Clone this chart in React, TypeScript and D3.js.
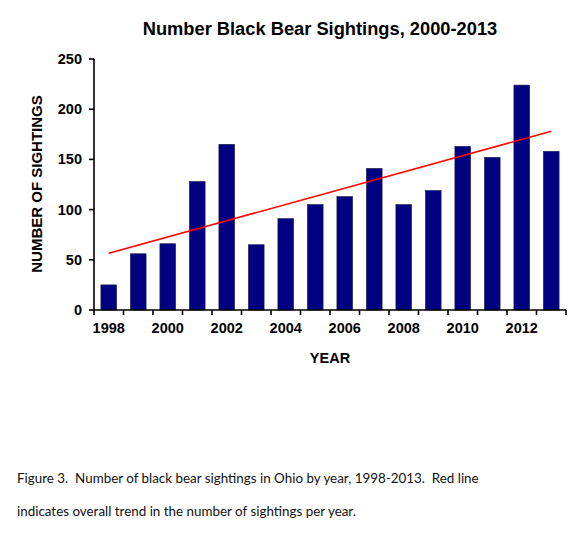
import * as d3 from "d3";
import { useEffect, useRef } from "react";

const years = [1998, 1999, 2000, 2001, 2002, 2003, 2004, 2005, 2006, 2007, 2008, 2009, 2010, 2011, 2012, 2013];
const sightings = [25, 56, 66, 128, 165, 65, 91, 105, 113, 141, 105, 119, 163, 152, 224, 158];
const trendEnds = [56.5, 178];
const yTicks = [0, 50, 100, 150, 200, 250];
const xLabelYears = [1998, 2000, 2002, 2004, 2006, 2008, 2010, 2012];
const captionLines = [
  "Figure 3.  Number of black bear sightings in Ohio by year, 1998-2013.  Red line",
  "indicates overall trend in the number of sightings per year."
];

function BearChart() {
  const ref = useRef<SVGSVGElement | null>(null);

  useEffect(() => {
    if (!ref.current) {
      return;
    }

    const width = 582;
    const height = 539;
    const svg = d3.select(ref.current);
    svg.selectAll("*").remove();
    svg.attr("width", width).attr("height", height).attr("viewBox", `0 0 ${width} ${height}`);

    const font = "'Liberation Sans', Arial, sans-serif";
    const x = d3
      .scaleBand<number>()
      .domain(years)
      .range([94, 566])
      .paddingInner(0.468)
      .paddingOuter(0.234);
    const y = d3.scaleLinear().domain([0, 250]).range([310, 59]);
    const gap = (x.step() - x.bandwidth()) / 2;
    const center = (yr: number) => (x(yr) ?? 0) + x.bandwidth() / 2;

    // bars
    svg
      .append("g")
      .selectAll("rect")
      .data(years)
      .join("rect")
      .attr("x", (d) => x(d) ?? 0)
      .attr("y", (_, i) => y(sightings[i]))
      .attr("width", x.bandwidth())
      .attr("height", (_, i) => y(0) - y(sightings[i]))
      .attr("fill", "#000080")
      .attr("stroke", "#1a1a4a")
      .attr("stroke-width", 0.6);

    // trend line
    const first = years[0];
    const last = years[years.length - 1];
    svg
      .append("line")
      .attr("x1", center(first))
      .attr("y1", y(trendEnds[0]))
      .attr("x2", center(last))
      .attr("y2", y(trendEnds[1]))
      .attr("stroke", "#ff0000")
      .attr("stroke-width", 1.6);

    // y axis
    const [x0, x1] = x.range();
    svg
      .append("line")
      .attr("x1", x0)
      .attr("x2", x0)
      .attr("y1", y(250))
      .attr("y2", y(0))
      .attr("stroke", "#000")
      .attr("stroke-width", 1.6);
    yTicks.forEach((t) => {
      svg
        .append("line")
        .attr("x1", x0 - 5)
        .attr("x2", x0)
        .attr("y1", y(t))
        .attr("y2", y(t))
        .attr("stroke", "#000")
        .attr("stroke-width", 1.6);
      svg
        .append("text")
        .attr("x", x0 - 12)
        .attr("y", y(t) + 5)
        .attr("text-anchor", "end")
        .attr("font-family", font)
        .attr("font-weight", "bold")
        .attr("font-size", 14.5)
        .text(t);
    });

    // x axis
    svg
      .append("line")
      .attr("x1", x0)
      .attr("x2", x1)
      .attr("y1", y(0))
      .attr("y2", y(0))
      .attr("stroke", "#000")
      .attr("stroke-width", 1.6);
    const bounds = years.map((yr) => (x(yr) ?? 0) - gap).concat([x1]);
    bounds.forEach((b) => {
      svg
        .append("line")
        .attr("x1", b)
        .attr("x2", b)
        .attr("y1", y(0))
        .attr("y2", y(0) + 5)
        .attr("stroke", "#000")
        .attr("stroke-width", 1.6);
    });
    xLabelYears.forEach((yr) => {
      svg
        .append("text")
        .attr("x", center(yr))
        .attr("y", 333)
        .attr("text-anchor", "middle")
        .attr("font-family", font)
        .attr("font-weight", "bold")
        .attr("font-size", 14.5)
        .text(yr);
    });

    // titles
    svg
      .append("text")
      .attr("x", 320)
      .attr("y", 35)
      .attr("text-anchor", "middle")
      .attr("font-family", font)
      .attr("font-weight", "bold")
      .attr("font-size", 18.3)
      .text("Number Black Bear Sightings, 2000-2013");
    svg
      .append("text")
      .attr("x", (x0 + x1) / 2)
      .attr("y", 363)
      .attr("text-anchor", "middle")
      .attr("font-family", font)
      .attr("font-weight", "bold")
      .attr("font-size", 14.5)
      .text("YEAR");
    svg
      .append("text")
      .attr("transform", `translate(42, 184) rotate(-90)`)
      .attr("text-anchor", "middle")
      .attr("font-family", font)
      .attr("font-weight", "bold")
      .attr("font-size", 15)
      .text("NUMBER OF SIGHTINGS");

    // caption
    captionLines.forEach((line, i) => {
      svg
        .append("text")
        .attr("x", 17)
        .attr("y", i === 0 ? 483 : 516)
        .attr("font-family", "Lato, 'Open Sans', sans-serif")
        .attr("font-size", 13.4)
        .attr("fill", "#111")
        .style("white-space", "pre")
        .text(line);
    });
  }, []);

  return <svg ref={ref} style={{ position: "absolute", left: 0, top: 0 }} aria-label="black bear sightings chart" />;
}

export default function App() {
  return <BearChart />;
}
